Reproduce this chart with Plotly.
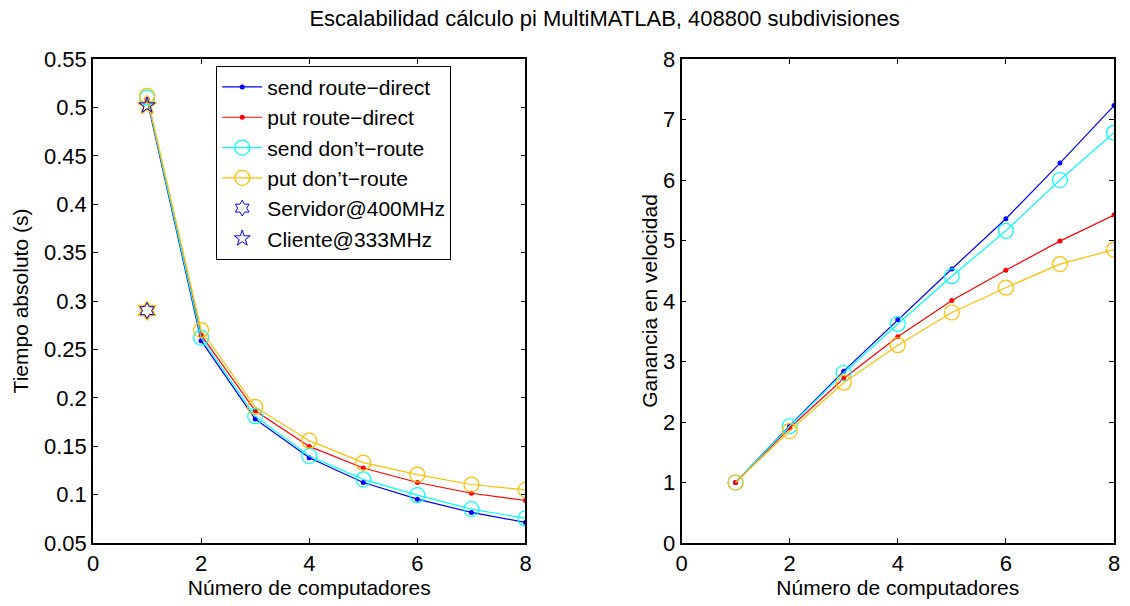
import plotly.graph_objects as go

# ---------------- data ----------------
computers = [1, 2, 3, 4, 5, 6, 7, 8]

t_send_rd = [0.508, 0.259, 0.178, 0.138, 0.1125, 0.0953, 0.0816, 0.0713]
t_put_rd = [0.509, 0.265, 0.1865, 0.1498, 0.1275, 0.1125, 0.1014, 0.0939]
t_send_dr = [0.510, 0.262, 0.181, 0.1398, 0.1158, 0.0994, 0.085, 0.0754]
t_put_dr = [0.512, 0.270, 0.1906, 0.1557, 0.133, 0.1207, 0.1104, 0.1049]

s_send_rd = [1.0, 1.94, 2.84, 3.69, 4.53, 5.36, 6.28, 7.23]
s_put_rd = [1.0, 1.90, 2.72, 3.41, 4.01, 4.51, 4.99, 5.42]
s_send_dr = [1.0, 1.93, 2.81, 3.62, 4.41, 5.16, 6.00, 6.78]
s_put_dr = [1.0, 1.85, 2.65, 3.27, 3.81, 4.22, 4.61, 4.85]

servidor_x = [1]
servidor_t = [0.29]
cliente_x = [1]
cliente_t = [0.502]

left_yticks = [0.05, 0.1, 0.15, 0.2, 0.25, 0.3, 0.35, 0.4, 0.45, 0.5, 0.55]
left_yticktext = ["0.05", "0.1", "0.15", "0.2", "0.25", "0.3", "0.35", "0.4", "0.45", "0.5", "0.55"]
xticks = [0, 2, 4, 6, 8]
right_yticks = [0, 1, 2, 3, 4, 5, 6, 7, 8]

names = ["send route\u2212direct", "put route\u2212direct", "send don\u2019t\u2212route", "put don\u2019t\u2212route"]

# ---------------- styles ----------------
BLUE = "#0000ff"
RED = "#ff0000"
CYAN = "#00ffff"
ORANGE = "#ffbf00"
FONT = "Liberation Sans, Arial, sans-serif"
TICK = 22
LAB = 21

fig = go.Figure()

series_t = [t_send_rd, t_put_rd, t_send_dr, t_put_dr]
series_s = [s_send_rd, s_put_rd, s_send_dr, s_put_dr]
colors = [BLUE, RED, CYAN, ORANGE]
markers = [
    dict(symbol="circle", size=5),
    dict(symbol="circle", size=5),
    dict(symbol="circle-open", size=15, line=dict(width=1.2)),
    dict(symbol="circle-open", size=15, line=dict(width=1.2)),
]

for i in range(4):
    mk = dict(markers[i])
    mk["color"] = colors[i]
    fig.add_trace(go.Scatter(
        x=computers, y=series_t[i], mode="lines+markers", name=names[i],
        line=dict(color=colors[i], width=1.2), marker=mk,
        xaxis="x", yaxis="y", legendgroup=str(i)))

# star markers (overlaid in orange and blue as in reference)
fig.add_trace(go.Scatter(
    x=servidor_x, y=servidor_t, mode="markers", showlegend=False,
    marker=dict(symbol="hexagram-open", size=14, color=ORANGE, line=dict(width=2)),
    xaxis="x", yaxis="y"))
fig.add_trace(go.Scatter(
    x=cliente_x, y=cliente_t, mode="markers", showlegend=False,
    marker=dict(symbol="star-open", size=14, color=ORANGE, line=dict(width=2)),
    xaxis="x", yaxis="y"))
fig.add_trace(go.Scatter(
    x=servidor_x, y=servidor_t, mode="markers", name="Servidor@400MHz",
    marker=dict(symbol="hexagram-open", size=12, color=BLUE, line=dict(width=1)),
    xaxis="x", yaxis="y"))
fig.add_trace(go.Scatter(
    x=cliente_x, y=cliente_t, mode="markers", name="Cliente@333MHz",
    marker=dict(symbol="star-open", size=12, color=BLUE, line=dict(width=1)),
    xaxis="x", yaxis="y"))

for i in range(4):
    mk = dict(markers[i])
    mk["color"] = colors[i]
    fig.add_trace(go.Scatter(
        x=computers, y=series_s[i], mode="lines+markers", name=names[i],
        line=dict(color=colors[i], width=1.2), marker=mk, showlegend=False,
        xaxis="x2", yaxis="y2"))

axis_common = dict(
    showgrid=False, zeroline=False, showline=True, linecolor="black", linewidth=1.5,
    mirror="ticks", ticks="inside", ticklen=5, tickcolor="black", tickwidth=1,
    tickfont=dict(family=FONT, size=TICK, color="black"),
)

fig.update_layout(
    width=1130, height=606,
    margin=dict(l=93, r=10, t=59, b=62),
    paper_bgcolor="white", plot_bgcolor="white",
    font=dict(family=FONT, color="black"),
    title=dict(text="Escalabilidad c\u00e1lculo pi MultiMATLAB, 408800 subdivisiones",
               x=0.535, xanchor="center", y=0.97, yanchor="middle",
               font=dict(family=FONT, size=22, color="black")),
    xaxis=dict(domain=[0, 0.4236], range=[0, 8], tickvals=xticks,
               title=dict(text="N\u00famero de computadores", font=dict(size=LAB), standoff=5),
               anchor="y", **axis_common),
    yaxis=dict(domain=[0, 1], range=[0.05, 0.55], tickvals=left_yticks, ticktext=left_yticktext,
               title=dict(text="Tiempo absoluto (s)", font=dict(size=LAB), standoff=10),
               anchor="x", **axis_common),
    xaxis2=dict(domain=[0.5764, 1], range=[0, 8], tickvals=xticks,
                title=dict(text="N\u00famero de computadores", font=dict(size=LAB), standoff=5),
                anchor="y2", **axis_common),
    yaxis2=dict(domain=[0, 1], range=[0, 8], tickvals=right_yticks,
                title=dict(text="Ganancia en velocidad", font=dict(size=LAB), standoff=0),
                anchor="x2", **axis_common),
    legend=dict(x=0.1207, y=0.986, xanchor="left", yanchor="top",
                bgcolor="white", bordercolor="black", borderwidth=1,
                font=dict(family=FONT, size=21, color="black"),
                itemwidth=40, tracegroupgap=0),
    showlegend=True,
)

fig.write_html("out.html")
